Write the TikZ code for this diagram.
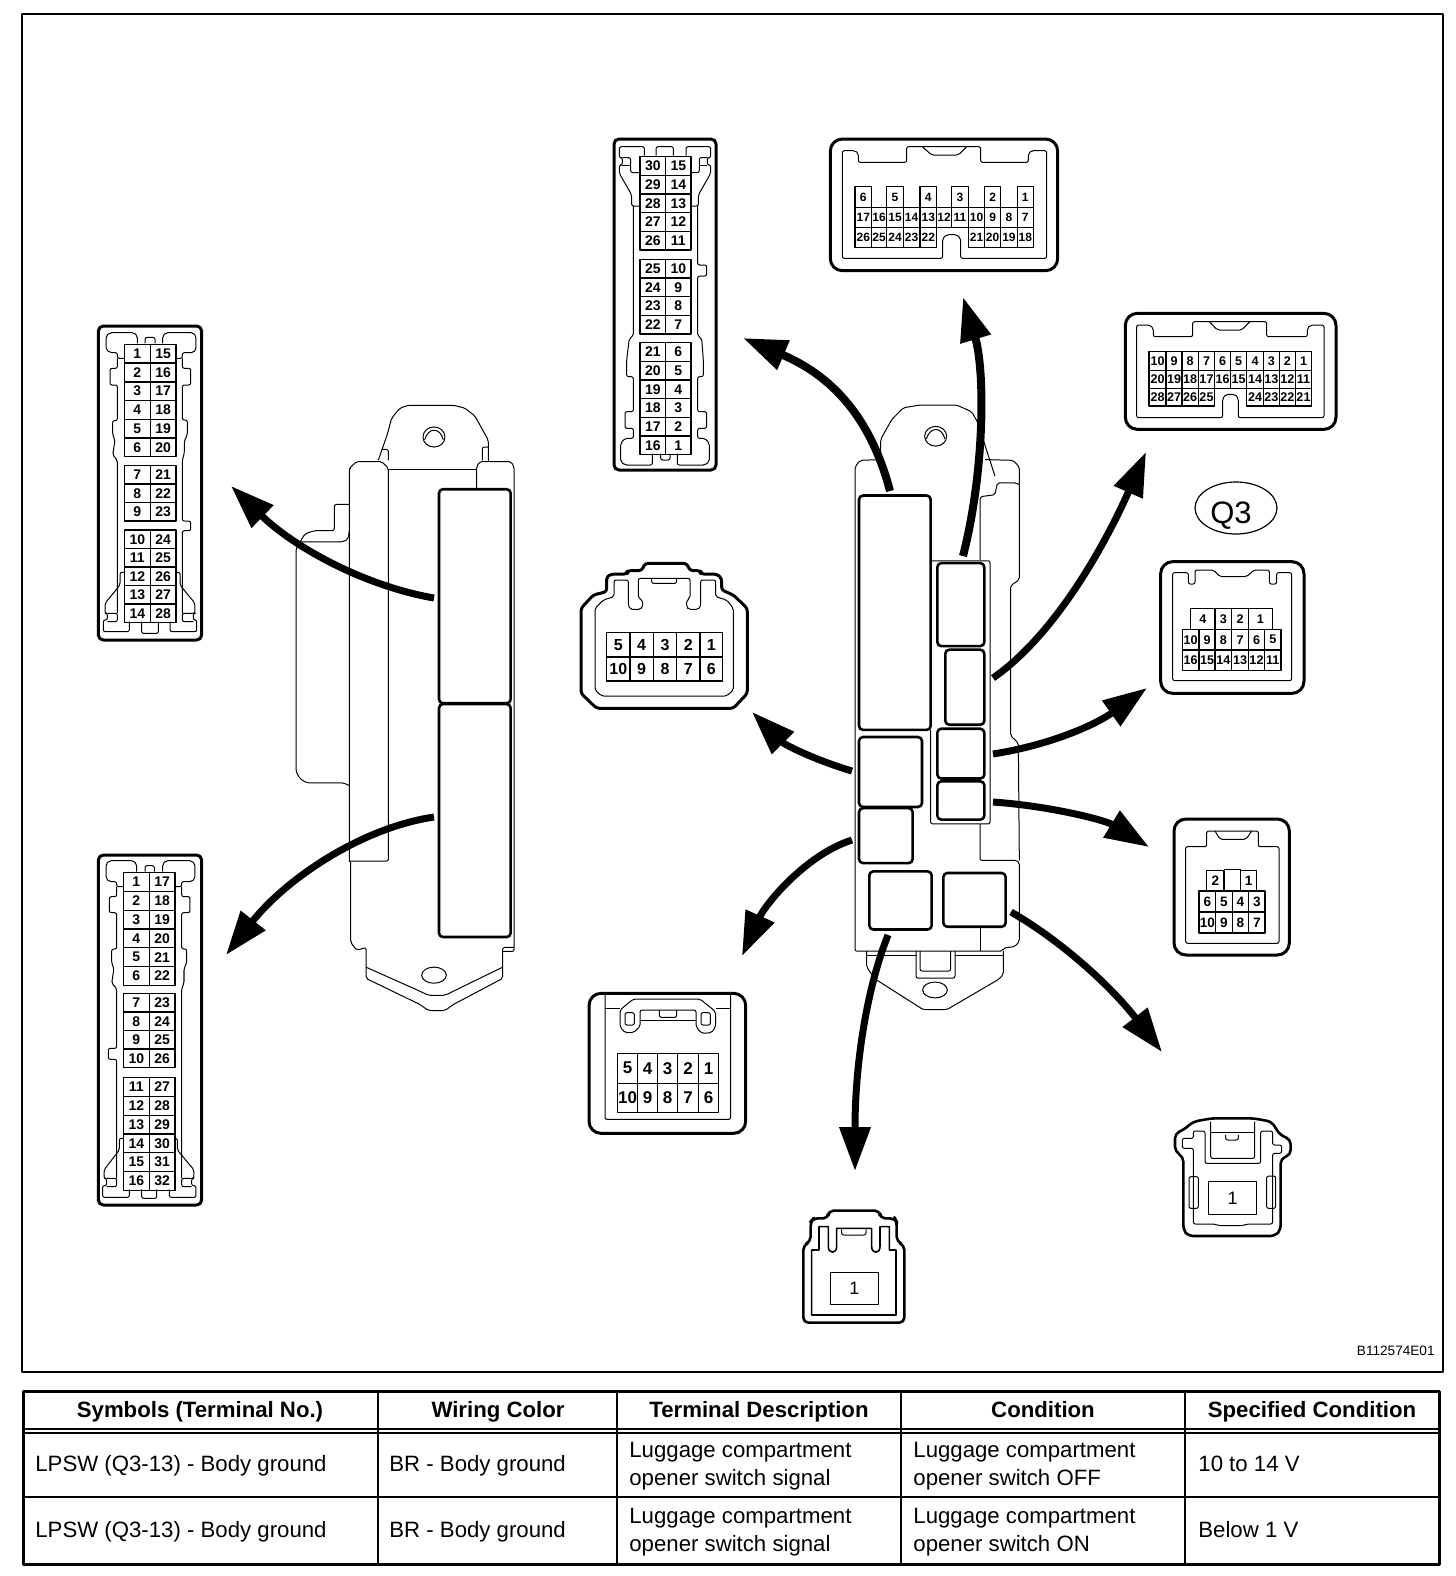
\documentclass[tikz,border=0pt]{standalone}
\usepackage{fontspec}
\setmainfont{Liberation Sans}
\usetikzlibrary{arrows.meta,shapes.geometric}

\tikzset{
	shellline/.style={line width=1.5pt, rounded corners=2.5pt},
	thinline/.style={line width=.5pt, rounded corners=1pt},
	slotbox/.style={line width=1.3pt, rounded corners=2pt},
	pincell/.style={draw, line width=.7pt, inner sep=0pt, yshift=-.5pt, font=\fontsize{7}{7}\selectfont\bfseries},
	pullarrow/.style={line width=3.5pt, -{Triangle[length=22pt,width=15pt]}},
	cellhead/.style={font=\fontsize{11.1}{11.1}\selectfont\bfseries, anchor=base, inner sep=0pt},
	celltext/.style={font=\fontsize{11.1}{11.1}\selectfont, anchor=base west, inner sep=0pt},
}

% one row of cells: prefix, top, bottom, label/left/right
\newcommand{\pinrow}[4]{
	\foreach \n/\a/\b in {#4}{
		\node[pincell, minimum width={(\b-\a)/6*1pt}, minimum height={(#3-#2)/6*1pt}] (#1\n) at ({(\a+\b)/2},{(#2+#3)/2}) {\n};
	}
}
% two columns of cells: prefix, left, middle, right, top, row height, labels
\newcommand{\pinpairs}[7]{
	\foreach \la/\lb [count=\i from 0] in {#7}{
		\pgfmathsetmacro{\ytop}{#5+\i*#6}
		\pgfmathsetmacro{\ybot}{#5+\i*#6+#6}
		\pinrow{#1}{\ytop}{\ybot}{\la/#2/#3,\lb/#3/#4}
	}
}

\begin{document}
\begin{tikzpicture}[x=.5pt, y=-.5pt, line join=round]
	\useasboundingbox (0,0) rectangle (1456,1576);
	\draw[line width=1.25pt] (22,14) rectangle (1443,1372);

	% left unit
	\begin{scope}[shift={(280,390)}, xscale=1/3, yscale=1/2.49]
		\draw[thinline] (208,1175) -- (208,195) -- (230,178) -- (305,178) -- (325,195) -- (325,1173) -- (208,1173);
		\draw[thinline, line width=.8pt] (208,195) -- (208,1173);
		\draw[thinline] (325,197) -- (590,197);
		\draw[thinline] (590,245) -- (590,190) -- (600,178) -- (692,178) -- (702,190) -- (702,1398) -- (668,1398);
		\draw[thinline] (212,1175) -- (212,1375) -- (230,1395) -- (258,1388) -- (258,1465) -- (420,1530) -- (445,1545) -- (495,1545) -- (520,1530) -- (668,1465) -- (668,1388) -- (702,1388);
		\draw[thinline] (258,1437) -- (420,1497) -- (445,1507) -- (495,1507) -- (520,1497) -- (668,1437);
		\draw[thinline] (295,175) -- (322,110) -- (335,70) -- (360,45) -- (385,38) -- (520,38) -- (555,45) -- (585,65) -- (625,125) -- (625,178);
		\draw[thinline] (607,175) -- (607,142) -- (625,142);
		\draw[thinline] (305,148) -- (325,148) -- (325,175);
		\draw[thinline] (208,285) -- (163,285) -- (163,350) -- (105,350) -- (75,358) -- (48,395) -- (48,950) -- (60,968) -- (80,978) -- (190,978) -- (208,985);
		\draw[thinline] (60,378) -- (190,378) -- (205,370) -- (208,350);
		\draw[line width=.5pt] (462,117) ellipse [x radius=33, y radius=25];
		\draw[line width=.5pt] (434,124) .. controls (445,92) and (480,92) .. (490,124);
		\draw[line width=.5pt] (462,1457) ellipse [x radius=37, y radius=20];
		\draw[slotbox] (477,247) rectangle (692,780);
		\draw[slotbox] (477,782) rectangle (692,1362);
	\end{scope}

	% right unit
	\begin{scope}[shift={(840,390)}, xscale=1/3, yscale=1/2.53]
		\draw[thinline] (122,176) -- (60,178) -- (45,195) -- (45,1420) -- (487,1420) -- (490,1412) -- (525,1408) -- (538,1395) -- (538,1195) -- (530,1190) -- (420,1190) -- (420,1098);
		\draw[thinline] (435,176) -- (520,178) -- (538,195) -- (538,480) -- (512,495) -- (512,875) -- (535,893) -- (538,1190);
		\draw[thinline] (420,430) -- (420,270) -- (465,265) -- (472,235) -- (530,235) -- (538,240);
		\draw[thinline] (275,432) -- (450,432) -- (450,1098) -- (272,1098) -- (272,860);
		\draw[thinline] (122,175) -- (122,125) -- (155,75) -- (190,45) -- (240,38) -- (350,38) -- (395,55) -- (412,80) -- (435,140) -- (465,218);
		\draw[thinline] (420,1360) -- (420,1420);
		\draw[thinline] (80,1420) -- (80,1460) -- (105,1490) -- (250,1568) -- (320,1568) -- (478,1490) -- (490,1478) -- (490,1420);
		\draw[thinline] (80,1432) -- (228,1432);
		\draw[thinline] (345,1432) -- (490,1432);
		\draw[thinline] (228,1420) -- (228,1488) -- (345,1488) -- (345,1420);
		\draw[thinline] (240,1420) -- (240,1470) -- (332,1470) -- (332,1420);
		\draw[line width=.5pt] (287,117) ellipse [x radius=33, y radius=25];
		\draw[line width=.5pt] (259,124) .. controls (270,92) and (305,92) .. (315,124);
		\draw[line width=.5pt] (285,1518) ellipse [x radius=37, y radius=20];
		\draw[slotbox] (57,267) rectangle (272,860);
		\draw[slotbox] (292,438) rectangle (433,648);
		\draw[slotbox] (316,657) rectangle (433,847);
		\draw[slotbox] (292,857) rectangle (433,983);
		\draw[slotbox] (292,990) rectangle (433,1087);
		\draw[slotbox] (57,878) rectangle (246,1055);
		\draw[slotbox] (57,1058) rectangle (218,1197);
		\draw[slotbox] (88,1218) rectangle (275,1365);
		\draw[slotbox] (310,1222) rectangle (497,1358);
	\end{scope}

	% 30 pin
	\begin{scope}[shift={(590,130)}, scale=1/3]
		\draw[shellline] (72,27) rectangle (378,1020);
		\draw[thinline] (163,77) -- (163,50) -- (88,50) -- (88,83) -- (97,83) -- (97,105) -- (88,105) -- (88,130) -- (125,195) -- (125,228) -- (148,228);
		\draw[thinline] (97,83) -- (122,83) -- (122,128) -- (148,128);
		\draw[thinline] (97,105) -- (122,105);
		\draw[thinline] (198,77) -- (198,50) -- (250,50) -- (250,77);
		\draw[thinline] (288,77) -- (288,50) -- (362,50) -- (362,83) -- (352,83) -- (352,105) -- (362,105) -- (362,130) -- (325,195) -- (325,228) -- (305,228);
		\draw[thinline] (305,128) -- (328,128) -- (328,83) -- (352,83);
		\draw[thinline] (328,105) -- (352,105);
		\draw[thinline] (130,228) -- (130,618) -- (118,625) -- (110,690) -- (110,740) -- (130,740) -- (130,845) -- (105,845) -- (105,895) -- (130,895) -- (130,925) -- (105,925) -- (92,940) -- (92,995) -- (105,1005) -- (187,1005) -- (187,971);
		\draw[thinline] (212,971) -- (212,990) -- (240,990) -- (240,971);
		\draw[thinline] (262,971) -- (262,1005) -- (345,1005) -- (358,995) -- (358,940) -- (345,925) -- (323,925) -- (323,895) -- (350,895) -- (350,845) -- (323,845) -- (323,740) -- (340,740) -- (340,690) -- (335,625) -- (323,618) -- (323,438) -- (350,438) -- (350,405) -- (323,405) -- (323,228);
		\pinpairs{a}{150}{227}{303}{77}{56}{30/15,29/14,28/13,27/12,26/11}
		\pinpairs{a}{150}{227}{303}{385}{56}{25/10,24/9,23/8,22/7}
		\pinpairs{a}{150}{227}{303}{635}{56}{21/6,20/5,19/4,18/3,17/2,16/1}
	\end{scope}

	% 26 pin
	\begin{scope}[shift={(590,130)}, scale=1/3, pincell/.append style={font=\fontsize{6}{6}\selectfont\bfseries}]
		\draw[shellline, rounded corners=6pt] (721,27) rectangle (1403,422);
		\draw[thinline] (805,97) -- (950,97) -- (950,50) -- (1172,50) -- (1172,97) -- (1315,97) -- (1315,70) -- (1325,62) -- (1370,62) -- (1370,385) -- (1112,385) -- (1112,325) -- (1100,314) -- (1070,314) -- (1058,325) -- (1058,385) -- (757,385) -- (757,62) -- (795,62) -- (805,70) -- cycle;
		\draw[thinline] (997,50) -- (1025,75) -- (1105,75) -- (1130,50);
		\pinrow{b}{167}{230}{6/795/845,5/890/940,4/990/1040,3/1085/1135,2/1184/1232,1/1282/1330}
		\pinrow{b}{230}{290}{17/795/845,16/845/890,15/890/940,14/940/990,13/990/1040,12/1040/1085,11/1085/1135,10/1135/1184,9/1184/1232,8/1232/1282,7/1282/1330}
		\pinrow{b}{290}{350}{26/795/845,25/845/890,24/890/940,23/940/990,22/990/1040,21/1135/1184,20/1184/1232,19/1232/1282,18/1282/1330}
	\end{scope}

	% 28 pin right, 16 pin
	\begin{scope}[shift={(1100,300)}, scale=1/3, pincell/.append style={font=\fontsize{6.3}{6.3}\selectfont\bfseries}]
		\draw[shellline, rounded corners=6pt] (76,40) rectangle (708,388);
		\draw[thinline] (160,110) -- (278,110) -- (278,65) -- (500,65) -- (500,110) -- (622,110) -- (622,85) -- (632,75) -- (672,75) -- (672,353) -- (415,353) -- (415,295) -- (405,283) -- (378,283) -- (368,295) -- (368,353) -- (110,353) -- (110,75) -- (150,75) -- (160,85) -- cycle;
		\draw[thinline] (328,65) -- (352,90) -- (425,90) -- (450,65);
		\pinrow{c}{152}{208}{10/147/198,9/198/246,8/246/295,7/295/344,6/344/392,5/392/440,4/440/490,3/490/538,2/538/586,1/586/635}
		\pinrow{c}{208}{262}{20/147/198,19/198/246,18/246/295,17/295/344,16/344/392,15/392/440,14/440/490,13/490/538,12/538/586,11/586/635}
		\pinrow{c}{262}{315}{28/147/198,27/198/246,26/246/295,25/295/344,24/440/490,23/490/538,22/538/586,21/586/635}

		\draw[shellline, rounded corners=6pt] (182,785) rectangle (612,1180);
		\draw[thinline] (218,818) -- (265,818) -- (265,852) -- (285,852) -- (285,810) -- (340,810) -- (360,830) -- (440,830) -- (462,810) -- (508,810) -- (508,852) -- (530,852) -- (530,818) -- (575,818) -- (575,1142) -- (218,1142) -- cycle;
		\pinrow{d}{922}{985}{4/272/345,3/345/395,2/395/445,1/445/517}
		\pinrow{d}{985}{1047}{10/247/297,9/297/345,8/345/395,7/395/445,6/445/494,5/494/543}
		\pinrow{d}{1047}{1108}{16/247/297,15/297/345,14/345/395,13/395/445,12/445/494,11/494/543}
	\end{scope}
	\node[ellipse, draw, line width=.6pt, inner sep=0pt, minimum width=41pt, minimum height=26pt, text height=15pt, text depth=0pt, font=\fontsize{15.5}{15.5}\selectfont] (q3) at (1236,508) {Q3\kern5pt};

	% 10 pin with latches
	\begin{scope}[shift={(570,550)}, scale=1/3, pincell/.append style={font=\fontsize{8}{8}\selectfont\bfseries}]
		\draw[shellline, rounded corners=1.5pt] (110,125) -- (110,80) -- (125,72) -- (172,72) -- (172,62) -- (215,62) -- (225,40) -- (350,40) -- (360,62) -- (392,62) -- (392,72) -- (440,72) -- (455,85) -- (455,120) -- (490,135) -- (532,175) -- (532,430) -- (490,475) -- (80,475) -- (33,430) -- (33,175) -- (70,135) -- cycle;
		\draw[thinline] (75,175) -- (100,150) -- (132,140) -- (132,90) -- (175,90) -- (175,165) -- (180,178) -- (212,178) -- (218,170) -- (218,150) -- (205,145) -- (205,85) -- (360,85) -- (360,145) -- (350,150) -- (350,170) -- (355,178) -- (385,178) -- (392,170) -- (392,90) -- (437,90) -- (437,140) -- (470,150) -- (490,175) -- (490,420) -- (470,438) -- (95,438) -- (75,420) -- cycle;
		\draw[thinline] (245,85) -- (245,100) -- (320,100) -- (320,85);
		\pinrow{e}{245}{318}{5/110/180,4/180/250,3/250/320,2/320/390,1/390/458}
		\pinrow{e}{318}{390}{10/110/180,9/180/250,8/250/320,7/320/390,6/390/458}
	\end{scope}

	% 10 pin lower, 1 pin lower
	\begin{scope}[shift={(570,980)}, scale=1/3, pincell/.append style={line width=.5pt, font=\fontsize{8.5}{8.5}\selectfont\bfseries}]
		\draw[shellline, rounded corners=6pt] (57,40) rectangle (527,460);
		\draw[thinline] (105,40) -- (105,418) -- (482,418) -- (482,40);
		\draw[thinline] (105,85) -- (150,85);
		\draw[thinline] (437,85) -- (482,85);
		\draw[thinline] (150,90) -- (190,57) -- (390,57) -- (437,95) -- (437,140) -- (425,158) -- (395,160) -- (378,140) -- (378,90) -- (210,90) -- (210,140) -- (190,158) -- (165,158) -- (150,140) -- cycle;
		\draw[thinline] (210,122) -- (378,122);
		\draw[thinline] (165,98) rectangle (193,135);
		\draw[thinline] (393,98) rectangle (421,135);
		\draw[thinline] (268,90) -- (268,112) -- (320,112) -- (320,90);
		\pinrow{f}{216}{307}{5/142/203,4/203/263,3/263/323,2/323/385,1/385/446}
		\pinrow{f}{307}{394}{10/142/203,9/203/263,8/263/323,7/323/385,6/385/446}

		\draw[shellline, line width=1.3pt] (775,715) -- (775,692) -- (930,692) -- (930,715) -- (975,715) -- (980,725) -- (980,785) -- (1003,795) -- (1003,1028) -- (700,1028) -- (700,795) -- (722,785) -- (722,725) -- (730,715) -- cycle;
		\draw[line width=.8pt] (747,810) -- (747,740) -- (775,740) -- (775,800) .. controls (775,822) and (800,822) .. (800,800) -- (800,745) -- (905,745) -- (905,800) .. controls (905,822) and (930,822) .. (930,800) -- (930,740) -- (958,740) -- (958,810) -- (978,810) -- (978,1005) -- (725,1005) -- (725,810) -- cycle;
		\draw[thinline] (815,748) -- (815,765) -- (888,765) -- (888,748);
		\node[pincell, line width=.6pt, yshift=.5pt, font=\fontsize{9}{9}\selectfont, minimum width=24pt, minimum height=16pt] (g1) at (853,925) {1};
	\end{scope}

	% 10 pin right, 1 pin right
	\begin{scope}[shift={(1150,800)}, scale=1/3, pincell/.append style={font=\fontsize{6.8}{6.8}\selectfont\bfseries}]
		\draw[shellline, rounded corners=6pt] (72,57) rectangle (418,465);
		\draw[thinline] (107,140) -- (170,140) -- (170,93) -- (325,93) -- (325,140) -- (387,140) -- (387,430) -- (107,430) -- cycle;
		\draw[thinline] (195,93) -- (210,118) -- (288,118) -- (305,93);
		\pinrow{i}{208}{270}{2/170/222,1/272/320}
		\draw[line width=.7pt, yshift=-.5pt] (222,208) -- (272,208);
		\pinrow{i}{270}{333}{6/147/197,5/197/247,4/247/296,3/296/345}
		\pinrow{i}{333}{396}{10/147/197,9/197/247,8/247/296,7/296/345}

		\draw[shellline, line width=1.3pt, rounded corners=2.5pt] (130,965) -- (185,955) -- (310,955) -- (365,965) -- (390,1005) -- (422,1018) -- (422,1065) -- (392,1075) -- (392,1290) -- (375,1308) -- (115,1308) -- (100,1290) -- (100,1070) -- (75,1055) -- (75,1000) -- (100,990) -- cycle;
		\draw[thinline] (130,1015) -- (130,993) -- (165,993) -- (165,1090) -- (332,1090) -- (332,993) -- (368,993) -- (368,1035) -- (395,1035) -- (395,1060) -- (368,1060) -- (368,1272) -- (290,1272) -- (280,1277) -- (205,1277) -- (195,1272) -- (130,1272) -- (130,1045) -- (97,1045) -- (97,1015) -- cycle;
		\draw[thinline] (182,965) -- (182,1075) -- (314,1075) -- (314,965);
		\draw[thinline] (182,997) -- (314,997);
		\draw[thinline] (227,1005) -- (227,1020) -- (265,1020) -- (265,1005);
		\draw[thinline] (117,1130) rectangle (145,1225);
		\draw[thinline] (350,1128) rectangle (377,1225);
		\node[pincell, line width=.6pt, font=\fontsize{9}{9}\selectfont, minimum width=24pt, minimum height=16.3pt] (h1) at (248,1191) {1};
	\end{scope}

	% 28 pin left
	\begin{scope}[shift={(90,320)}, scale=1/3]
		\draw[shellline] (25,18) rectangle (335,960);
		\draw[thinline] (103,115) -- (82,115) -- (82,98) -- (60,98) -- (48,88) -- (48,48) -- (60,38) -- (132,38) -- (142,48) -- (142,70);
		\draw[thinline] (165,70) -- (165,52) -- (195,52) -- (195,70);
		\draw[thinline] (218,70) -- (218,48) -- (228,38) -- (310,38) -- (318,48) -- (318,88) -- (310,98) -- (277,98) -- (277,115) -- (258,115);
		\draw[thinline] (82,115) -- (82,145) -- (60,145) -- (60,195) -- (82,195) -- (82,302) -- (68,302) -- (68,345) -- (75,360) -- (68,405) -- (82,420) -- (82,880);
		\draw[thinline] (277,115) -- (277,145) -- (302,145) -- (302,195) -- (277,195) -- (277,300) -- (292,300) -- (292,345) -- (283,362) -- (283,400) -- (277,420) -- (277,603) -- (302,603) -- (302,632) -- (277,632) -- (277,880);
		\draw[thinline] (103,757) -- (90,757) -- (90,795) -- (45,850) -- (45,880) -- (52,880) -- (52,900) -- (40,900) -- (40,935) -- (118,935) -- (118,905);
		\draw[thinline] (52,880) -- (82,880) -- (82,905) -- (52,905);
		\draw[thinline] (155,905) -- (155,940) -- (205,940) -- (205,905);
		\draw[thinline] (258,757) -- (270,757) -- (270,795) -- (315,850) -- (315,880) -- (310,880) -- (310,900) -- (320,900) -- (320,935) -- (240,935) -- (240,905);
		\draw[thinline] (310,880) -- (277,880) -- (277,905) -- (310,905);
		\pinpairs{j}{103}{181}{258}{70}{56.2}{1/15,2/16,3/17,4/18,5/19,6/20}
		\pinpairs{j}{103}{181}{258}{434}{55.4}{7/21,8/22,9/23}
		\pinpairs{j}{103}{181}{258}{627}{55.6}{10/24,11/25,12/26,13/27,14/28}
	\end{scope}

	% 32 pin
	\begin{scope}[shift={(90,850)}, scale=1/3]
		\draw[shellline] (25,15) rectangle (335,1065);
		\draw[thinline] (100,110) -- (80,110) -- (80,95) -- (58,95) -- (48,85) -- (48,42) -- (58,32) -- (130,32) -- (140,42) -- (140,65);
		\draw[thinline] (165,65) -- (165,47) -- (193,47) -- (193,65);
		\draw[thinline] (218,65) -- (218,42) -- (228,32) -- (305,32) -- (315,42) -- (315,85) -- (305,95) -- (275,95) -- (275,110) -- (255,110);
		\draw[thinline] (80,110) -- (80,140) -- (58,140) -- (58,188) -- (80,188) -- (80,297) -- (65,297) -- (65,340) -- (72,355) -- (65,400) -- (80,415) -- (80,595) -- (55,595) -- (55,628) -- (80,628) -- (80,985);
		\draw[thinline] (275,110) -- (275,140) -- (300,140) -- (300,188) -- (275,188) -- (275,297) -- (290,297) -- (290,340) -- (282,355) -- (282,400) -- (275,415) -- (275,985);
		\draw[thinline] (100,865) -- (88,865) -- (88,900) -- (42,960) -- (42,985) -- (50,985) -- (50,1007) -- (38,1007) -- (38,1042) -- (118,1042) -- (118,1018);
		\draw[thinline] (50,985) -- (80,985) -- (80,1010) -- (50,1010);
		\draw[thinline] (155,1018) -- (155,1045) -- (200,1045) -- (200,1018);
		\draw[thinline] (255,865) -- (262,865) -- (262,900) -- (312,960) -- (312,985) -- (305,985) -- (305,1007) -- (318,1007) -- (318,1042) -- (238,1042) -- (238,1018);
		\draw[thinline] (305,985) -- (275,985) -- (275,1010) -- (305,1010);
		\pinpairs{k}{100}{178}{255}{65}{56.3}{1/17,2/18,3/19,4/20,5/21,6/22}
		\pinpairs{k}{100}{178}{255}{427}{55.8}{7/23,8/24,9/25,10/26}
		\pinpairs{k}{100}{178}{255}{680}{56.3}{11/27,12/28,13/29,14/30,15/31,16/32}
	\end{scope}

	% arrows
	\coordinate (s1) at (434,598);
	\coordinate (t1) at (231,486);
	\coordinate (s2) at (434,817);
	\coordinate (t2) at (226,955);
	\coordinate (s3) at (890,491);
	\coordinate (t3) at (743,338);
	\coordinate (s4) at (963,556);
	\coordinate (t4) at (963,297);
	\coordinate (s5) at (993,678);
	\coordinate (t5) at (1146,452);
	\coordinate (s6) at (993,754);
	\coordinate (t6) at (1147,688);
	\coordinate (s7) at (993,802);
	\coordinate (t7) at (1149,847);
	\coordinate (s8) at (1011,912);
	\coordinate (t8) at (1162,1052);
	\coordinate (s9) at (888,935);
	\coordinate (t9) at (855,1171);
	\coordinate (s10) at (852,840);
	\coordinate (t10) at (742,956);
	\coordinate (s11) at (852,771);
	\coordinate (t11) at (752,712);

	\draw[pullarrow] (s1) .. controls (365,586) and (295,548) .. (t1);
	\draw[pullarrow] (s2) .. controls (360,828) and (285,880) .. (t2);
	\draw[pullarrow, line width=4pt] (s3) .. controls (870,415) and (830,375) .. (t3);
	\draw[pullarrow, line width=4pt] (s4) .. controls (985,470) and (985,370) .. (t4);
	\draw[pullarrow] (s5) .. controls (1055,635) and (1105,545) .. (t5);
	\draw[pullarrow] (s6) .. controls (1050,745) and (1095,725) .. (t6);
	\draw[pullarrow] (s7) .. controls (1050,806) and (1105,820) .. (t7);
	\draw[pullarrow] (s8) .. controls (1060,940) and (1110,985) .. (t8);
	\draw[pullarrow] (s9) .. controls (868,985) and (855,1060) .. (t9);
	\draw[pullarrow] (s10) .. controls (805,855) and (765,905) .. (t10);
	\draw[pullarrow] (s11) .. controls (815,760) and (785,745) .. (t11);

	\node[anchor=east, inner sep=0pt, font=\fontsize{6.8}{6.8}\selectfont] (figcode) at (1435,1351) {B112574E01};

	% table
	\draw[line width=1.5pt] (23,1391) rectangle (1439,1564);
	\draw[line width=1pt] (23,1429) -- (1439,1429);
	\draw[line width=1pt] (23,1433) -- (1439,1433);
	\draw[line width=1pt] (23,1497) -- (1439,1497);
	\foreach \x in {378,617,901,1185}{
		\draw[line width=1pt] (\x,1391) -- (\x,1564);
	}
	\node[cellhead] (h1col) at (200,1417) {Symbols (Terminal No.)};
	\node[cellhead] (h2col) at (498,1417) {Wiring Color};
	\node[cellhead] (h3col) at (759,1417) {Terminal Description};
	\node[cellhead] (h4col) at (1043,1417) {Condition};
	\node[cellhead] (h5col) at (1312,1417) {Specified Condition};

	\node[celltext] (r1a) at (35,1471) {LPSW (Q3-13) - Body ground};
	\node[celltext] (r1b) at (389,1471) {BR - Body ground};
	\node[celltext] (r1c) at (629,1457) {Luggage compartment};
	\node[celltext] (r1cc) at (629,1485) {opener switch signal};
	\node[celltext] (r1d) at (913,1457) {Luggage compartment};
	\node[celltext] (r1dd) at (913,1485) {opener switch OFF};
	\node[celltext] (r1e) at (1198,1471) {10 to 14 V};

	\node[celltext] (r2a) at (35,1537) {LPSW (Q3-13) - Body ground};
	\node[celltext] (r2b) at (389,1537) {BR - Body ground};
	\node[celltext] (r2c) at (629,1523) {Luggage compartment};
	\node[celltext] (r2cc) at (629,1551) {opener switch signal};
	\node[celltext] (r2d) at (913,1523) {Luggage compartment};
	\node[celltext] (r2dd) at (913,1551) {opener switch ON};
	\node[celltext] (r2e) at (1198,1537) {Below 1 V};
\end{tikzpicture}
\end{document}
